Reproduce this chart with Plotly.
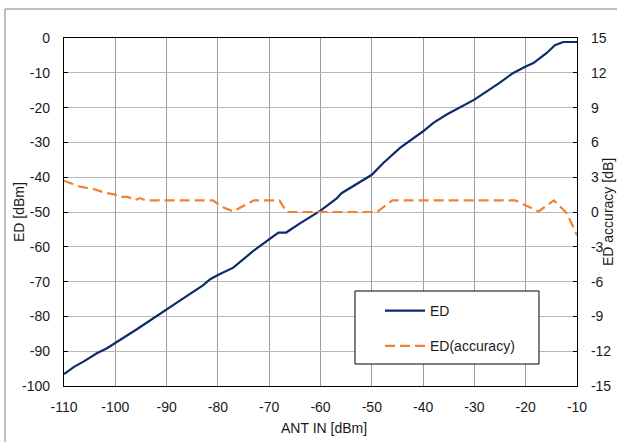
import plotly.graph_objects as go

# ED vs ANT IN
ant_in = [-110, -108.05, -106.2, -103.6, -101.7, -100, -97.1, -95.8, -93.9, -90,
          -86.75, -82.85, -81.5, -80, -77.0, -73.1, -70, -68.2, -66.7, -64.0,
          -60, -56.85, -55.9, -52.3, -50, -47.75, -44.5, -40, -38.0, -35.4,
          -31.8, -30, -25.1, -22.5, -20, -18.5, -15.9, -14.3, -12.7, -10]
ed = [-96.6, -94.5, -93.0, -90.6, -89.2, -87.7, -84.9, -83.7, -81.8, -78.0,
      -74.8, -71.0, -69.3, -68.1, -66.0, -61.2, -57.8, -55.9, -55.9, -53.25,
      -49.6, -46.1, -44.6, -41.3, -39.3, -35.9, -31.6, -26.8, -24.4, -22.0,
      -19.2, -17.7, -12.9, -10.1, -8.2, -7.2, -4.3, -2.1, -1.15, -1.15]

# ED accuracy vs ANT IN
acc_x = [-110, -107, -104, -102, -100, -99, -97.5, -96.2, -95.2, -94,
         -81, -79, -77, -73, -68, -66.6, -49, -46, -22, -17.5,
         -14.5, -12, -10]
acc = [2.7, 2.2, 1.95, 1.65, 1.5, 1.3, 1.3, 1.0, 1.2, 1.0,
       1.0, 0.4, 0.05, 1.0, 1.0, 0.0, 0.0, 1.0, 1.0, 0.05,
       1.0, -0.1, -2.0]

x_ticks = list(range(-110, -9, 10))
y_ticks = list(range(-100, 1, 10))
y2_ticks = list(range(-15, 16, 3))

FONT = "Liberation Sans, Arial, sans-serif"

fig = go.Figure()
fig.add_trace(go.Scatter(x=ant_in, y=ed, mode="lines", name="ED",
                         line=dict(color="#0E2A6E", width=2.2), legendgroup="a"))
fig.add_trace(go.Scatter(x=acc_x, y=acc, mode="lines", name="ED(accuracy)",
                         line=dict(color="#F08232", width=2.2, dash="10px,5px"),
                         yaxis="y2", legendgroup="b"))

W, H = 617, 442
L, R, T, B = 64, 40, 38, 56
pw, ph = W - L - R, H - T - B

def px(xp):
    return (xp - L) / pw

def py(yp):
    return (H - B - yp) / ph

fig.update_layout(
    width=W, height=H,
    margin=dict(l=L, r=R, t=T, b=B, autoexpand=False),
    paper_bgcolor="white", plot_bgcolor="white",
    font=dict(family=FONT, size=14, color="#1a1a1a"),
    xaxis=dict(range=[-110, -10], tickvals=x_ticks, ticktext=[str(v) for v in x_ticks],
               showgrid=True, automargin=False,
               gridcolor="#9c9c9c", gridwidth=1, showline=True, linecolor="black",
               linewidth=1.2, mirror=True, ticks="", zeroline=False,
               ticklabelstandoff=8),
    yaxis=dict(range=[-100, 0], tickvals=y_ticks, ticktext=[str(v) for v in y_ticks],
               showgrid=True, automargin=False,
               gridcolor="#b8b8b8", gridwidth=1, showline=True, linecolor="black",
               linewidth=1.2, ticks="inside", ticklen=4, tickcolor="black",
               zeroline=False, ticklabelstandoff=10),
    yaxis2=dict(range=[-15, 15], tickvals=y2_ticks, ticktext=[str(v) for v in y2_ticks],
                overlaying="y", side="right", automargin=False,
                showgrid=False, showline=True, linecolor="black", linewidth=1.2,
                ticks="inside", ticklen=4, tickcolor="black", zeroline=False,
                ticklabelstandoff=10),
    showlegend=True,
    legend=dict(x=px(380), y=py(295), xanchor="left", yanchor="top",
                bgcolor="rgba(0,0,0,0)", borderwidth=0, traceorder="grouped",
                tracegroupgap=14, itemwidth=40, font=dict(size=14)),
    shapes=[
        dict(type="rect", xref="paper", yref="paper", x0=px(355), x1=px(539),
             y0=py(364), y1=py(291), line=dict(color="black", width=1),
             fillcolor="white", layer="above"),
        dict(type="rect", xref="paper", yref="paper", x0=px(5), x1=px(660),
             y0=py(480), y1=py(9), line=dict(color="#808080", width=1),
             fillcolor="rgba(0,0,0,0)", layer="below"),
    ],
    annotations=[
        dict(text="ANT IN [dBm]", xref="paper", yref="paper", x=px(324), y=py(428),
             showarrow=False, xanchor="center", yanchor="middle", font=dict(size=14)),
        dict(text="ED [dBm]", xref="paper", yref="paper", x=px(19), y=py(212),
             showarrow=False, textangle=-90, xanchor="center", yanchor="middle",
             font=dict(size=14)),
        dict(text="ED accuracy [dB]", xref="paper", yref="paper", x=px(608), y=py(212),
             showarrow=False, textangle=-90, xanchor="center", yanchor="middle",
             font=dict(size=14)),
    ],
)

fig.write_html("out.html")
